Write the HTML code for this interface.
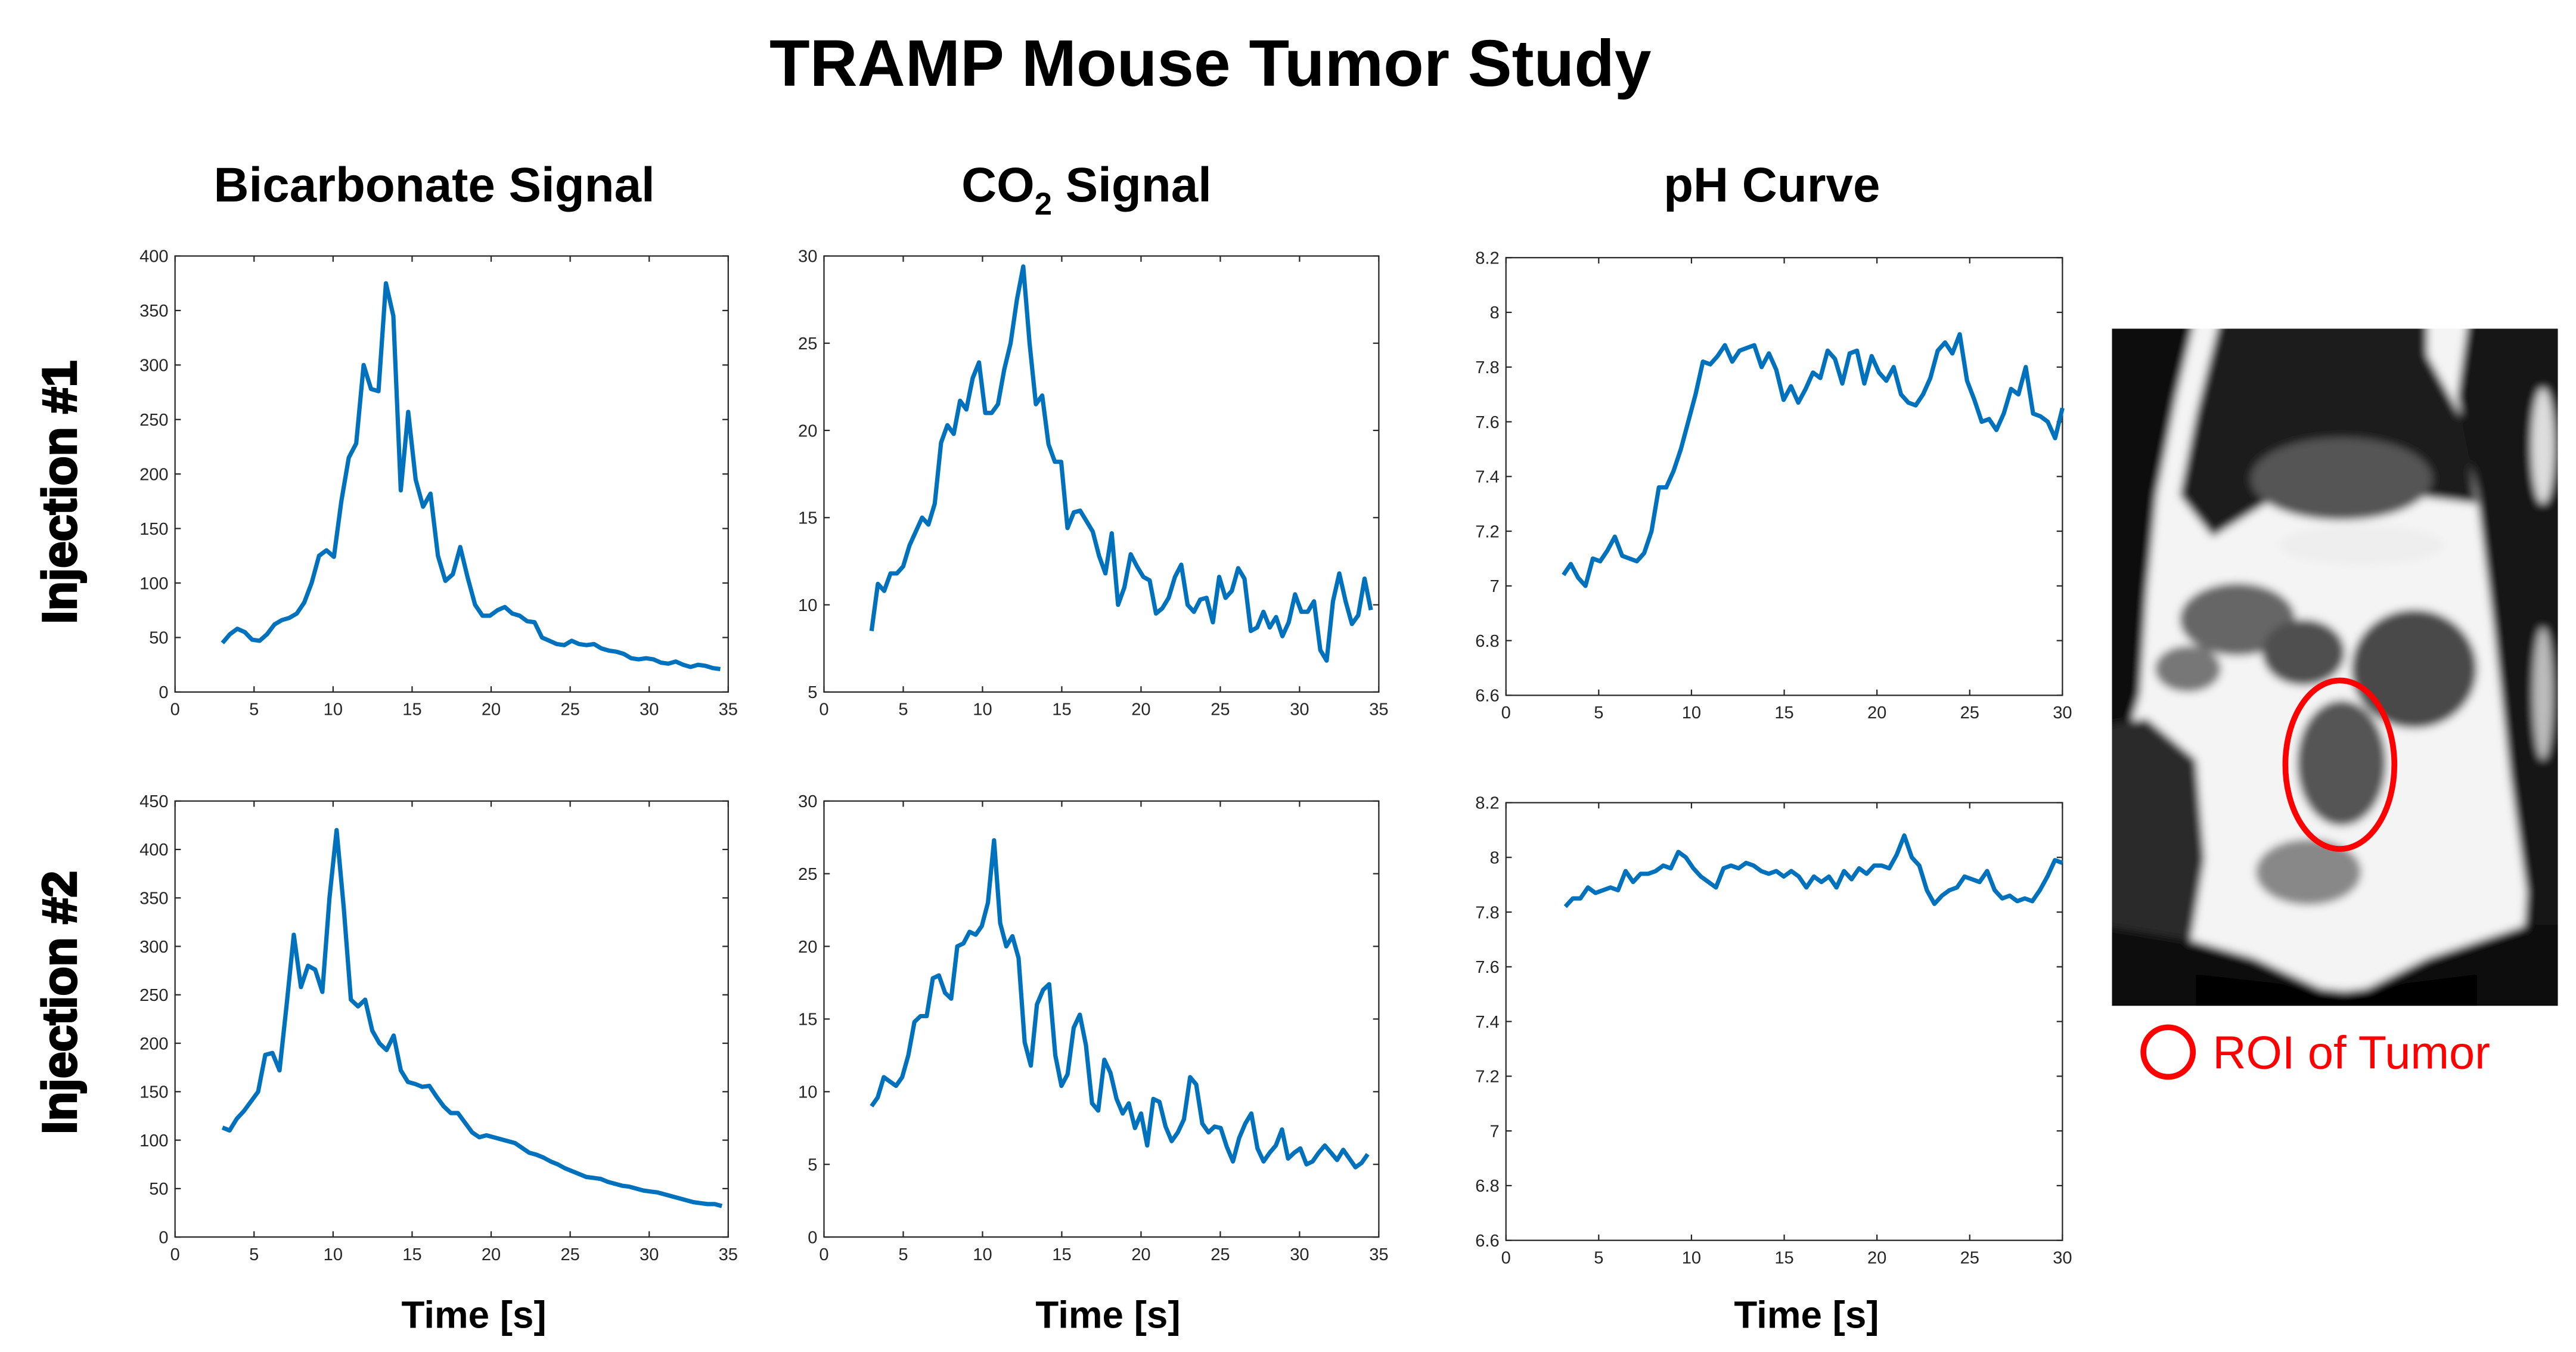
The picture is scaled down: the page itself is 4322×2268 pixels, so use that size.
<!DOCTYPE html>
<html><head><meta charset="utf-8"><style>
html,body{margin:0;padding:0;background:#fff;}
svg{display:block;}
text{font-family:"Liberation Sans",sans-serif;}
</style></head><body>
<svg id="fig" width="4322" height="2268" viewBox="0 0 1560 818.6" xmlns="http://www.w3.org/2000/svg">
<rect x="0" y="0" width="1560" height="818.6" fill="#fff"/>
<text x="733" y="52" font-size="40" font-weight="bold" text-anchor="middle">TRAMP Mouse Tumor Study</text>
<text x="263" y="122" font-size="29.5" font-weight="bold" text-anchor="middle">Bicarbonate Signal</text>
<text x="658" y="122" font-size="29.5" font-weight="bold" text-anchor="middle">CO<tspan font-size="19" dy="8">2</tspan><tspan dy="-8"> Signal</tspan></text>
<text x="1073" y="122" font-size="29.5" font-weight="bold" text-anchor="middle">pH Curve</text>
<text transform="translate(46,298) rotate(-90)" font-size="29" font-weight="bold" text-anchor="middle" stroke="#000" stroke-width="1.2">Injection #1</text>
<text transform="translate(46,607) rotate(-90)" font-size="29" font-weight="bold" text-anchor="middle" stroke="#000" stroke-width="1.2">Injection #2</text>
<text x="287" y="804" font-size="23" font-weight="bold" text-anchor="middle">Time [s]</text>
<text x="671" y="804" font-size="23" font-weight="bold" text-anchor="middle">Time [s]</text>
<text x="1094" y="804" font-size="23" font-weight="bold" text-anchor="middle">Time [s]</text>
<g id="charts"></g>
<defs>
<clipPath id="mc"><rect x="1279" y="199" width="270" height="410"/></clipPath>
<filter id="bl"><feGaussianBlur stdDeviation="2.5"/></filter>
</defs>
<g>
<g clip-path="url(#mc)">
<g filter="url(#bl)">
<rect x="1270" y="190" width="290" height="430" fill="#f4f4f4"/>
<!-- left dark strip and top-left -->
<path d="M1270 190 L1330 190 L1318 240 L1306 300 L1300 360 L1296 420 L1290 440 L1270 440 Z" fill="#0a0a0a"/>
<path d="M1270 440 L1300 435 L1330 460 L1335 520 L1325 580 L1270 600 Z" fill="#2a2a2a"/>
<!-- top center dark region -->
<path d="M1345 190 L1470 190 L1470 215 L1492 255 L1500 305 L1460 300 L1420 290 L1380 300 L1340 325 L1320 300 L1330 250 Z" fill="#1a1a1a"/>
<ellipse cx="1418" cy="290" rx="55" ry="25" fill="#555"/>
<ellipse cx="1430" cy="330" rx="50" ry="12" fill="#eee"/>
<!-- top right -->
<path d="M1495 190 L1560 190 L1560 620 L1525 620 L1530 540 L1520 470 L1510 380 L1500 300 L1488 240 Z" fill="#141414"/>
<ellipse cx="1540" cy="270" rx="7" ry="35" fill="#ddd"/>
<ellipse cx="1540" cy="420" rx="6" ry="40" fill="#bbb"/>
<!-- organs -->
<ellipse cx="1355" cy="375" rx="35" ry="22" fill="#666"/>
<ellipse cx="1325" cy="405" rx="20" ry="14" fill="#777"/>
<ellipse cx="1395" cy="395" rx="25" ry="20" fill="#505050"/>
<ellipse cx="1462" cy="405" rx="38" ry="36" fill="#4a4a4a"/>
<ellipse cx="1418" cy="462" rx="27" ry="38" fill="#555"/>
<ellipse cx="1398" cy="528" rx="32" ry="20" fill="#888"/>
<!-- bottom black -->
<path d="M1270 560 L1330 570 L1365 580 L1420 605 L1470 580 L1530 560 L1560 560 L1560 620 L1270 620 Z" fill="#080808"/>
<path d="M1330 590 L1420 600 L1500 590 L1500 620 L1330 620 Z" fill="#050505"/>
</g>
</g>
</g>
<ellipse cx="1417" cy="463" rx="33" ry="51" fill="none" stroke="#f00" stroke-width="3.5"/>
<circle cx="1313" cy="637" r="15" fill="none" stroke="#f00" stroke-width="3.5"/>
<text x="1340" y="647" font-size="28" fill="#f00">ROI of Tumor</text>
</svg>
<script>
// Bicarbonate injection #1
const bic1Values=[45,53,58,55,48,47,53,62,66,68,72,82,100,125,130,124,175,215,228,300,278,276,375,345,185,257,195,170,182,125,102,108,133,105,80,70,70,75,78,72,70,65,64,50,47,44,43,47,44,43,44,40,38,37,35,31,30,31,30,27,26,28,25,23,25,24,22,21];
// CO2 injection #1
const co21Values=[8.5,11.2,10.8,11.8,11.8,12.2,13.4,14.2,15,14.6,15.8,19.3,20.3,19.8,21.7,21.2,23,23.9,21,21,21.5,23.5,25,27.5,29.4,25,21.5,22,19.2,18.2,18.2,14.4,15.3,15.4,14.8,14.2,12.8,11.8,14.1,10,11,12.9,12.2,11.6,11.4,9.5,9.8,10.4,11.6,12.3,10,9.6,10.3,10.4,9,11.6,10.4,10.8,12.1,11.5,8.5,8.7,9.6,8.7,9.3,8.2,9,10.6,9.6,9.6,10.2,7.4,6.8,10.2,11.8,10.2,8.9,9.4,11.5,9.7];
// pH injection #1
const ph1Values=[7.04,7.08,7.03,7.0,7.1,7.09,7.13,7.18,7.11,7.1,7.09,7.12,7.2,7.36,7.36,7.42,7.5,7.6,7.7,7.82,7.81,7.84,7.88,7.82,7.86,7.87,7.88,7.8,7.85,7.79,7.68,7.73,7.67,7.72,7.78,7.76,7.86,7.83,7.74,7.85,7.86,7.74,7.84,7.78,7.75,7.8,7.7,7.67,7.66,7.7,7.76,7.86,7.89,7.85,7.92,7.75,7.68,7.6,7.61,7.57,7.63,7.72,7.7,7.8,7.63,7.62,7.6,7.54,7.65];
// Bicarbonate injection #2
const bic2Values=[113,110,122,130,140,150,188,190,172,240,312,258,280,276,253,350,420,340,245,238,245,213,200,193,208,172,160,158,155,156,145,135,128,128,118,108,103,105,103,101,99,97,92,87,85,82,78,75,71,68,65,62,61,60,57,55,53,52,50,48,47,46,44,42,40,38,36,35,34,34,32];
// CO2 injection #2
const co22Values=[9,9.6,11,10.7,10.4,11,12.5,14.8,15.2,15.2,17.8,18,16.8,16.4,20,20.2,21,20.8,21.4,23,27.3,21.6,20,20.7,19.2,13.4,11.8,16,17,17.4,12.5,10.4,11.2,14.4,15.3,13.2,9.2,8.7,12.2,11.3,9.5,8.5,9.2,7.5,8.5,6.3,9.5,9.3,7.6,6.6,7.2,8.1,11,10.5,7.8,7.2,7.6,7.5,6.2,5.2,6.8,7.8,8.5,6.1,5.2,5.8,6.3,7.4,5.4,5.8,6.1,5,5.2,5.8,6.3,5.8,5.3,6,5.4,4.8,5.1,5.7];
// pH injection #2
const ph2Values=[7.82,7.85,7.85,7.89,7.87,7.88,7.89,7.88,7.95,7.91,7.94,7.94,7.95,7.97,7.96,8.02,8.0,7.96,7.93,7.91,7.89,7.96,7.97,7.96,7.98,7.97,7.95,7.94,7.95,7.93,7.95,7.93,7.89,7.93,7.91,7.93,7.89,7.95,7.92,7.96,7.94,7.97,7.97,7.96,8.01,8.08,8.0,7.97,7.88,7.83,7.86,7.88,7.89,7.93,7.92,7.91,7.95,7.88,7.85,7.86,7.84,7.85,7.84,7.88,7.93,7.99,7.98];
const xTicks35=[0,5,10,15,20,25,30,35];
const xTicks30=[0,5,10,15,20,25,30];
const yTicksBic1=[0,50,100,150,200,250,300,350,400];
const yTicksBic2=[0,50,100,150,200,250,300,350,400,450];
const yTicksCo21=[5,10,15,20,25,30];
const yTicksCo22=[0,5,10,15,20,25,30];
const yTicksPh=[6.6,6.8,7,7.2,7.4,7.6,7.8,8,8.2];
const sampleTimes={bic1:[3,34.5],co21:[3,34.5],ph1:[3.1,30],bic2:[3,34.6],co22:[3,34.3],ph2:[3.2,30]};

const NS='http://www.w3.org/2000/svg';
const root=document.getElementById('charts');
function mk(tag,attrs,parent){const e=document.createElementNS(NS,tag);for(const k in attrs)e.setAttribute(k,attrs[k]);parent.appendChild(e);return e;}
function chart(name,box,xd,yd,xt,yt,vals,tr){
  const g=mk('g',{},root);
  
  
  const [x0,y0,x1,y1]=box;
  const sx=v=>x0+(v-xd[0])/(xd[1]-xd[0])*(x1-x0);
  const sy=v=>y1-(v-yd[0])/(yd[1]-yd[0])*(y1-y0);
  const fr=mk('rect',{x:x0,y:y0,width:x1-x0,height:y1-y0,fill:'none',stroke:'#262626','stroke-width':0.8},g);
  
  
  xt.forEach(t=>{const x=sx(t);
    mk('line',{x1:x,x2:x,y1:y1,y2:y1-3.5,stroke:'#262626','stroke-width':0.8},g);
    mk('line',{x1:x,x2:x,y1:y0,y2:y0+3.5,stroke:'#262626','stroke-width':0.8},g);
    const tx=mk('text',{x:x,y:y1+14,'font-size':10.5,'text-anchor':'middle',fill:'#262626'},g);tx.textContent=t;
    
    });
  yt.forEach(t=>{const y=sy(t);
    mk('line',{x1:x0,x2:x0+3.5,y1:y,y2:y,stroke:'#262626','stroke-width':0.8},g);
    mk('line',{x1:x1,x2:x1-3.5,y1:y,y2:y,stroke:'#262626','stroke-width':0.8},g);
    const tx=mk('text',{x:x0-4,y:y+3.7,'font-size':10.5,'text-anchor':'end',fill:'#262626'},g);tx.textContent=t;
    
    });
  const n=vals.length;
  const pts=vals.map((v,i)=>{const t=tr[0]+(tr[1]-tr[0])*i/(n-1);return sx(t).toFixed(2)+','+sy(v).toFixed(2);});
  const pl=mk('polyline',{points:pts.join(' '),fill:'none',stroke:'#0072BD','stroke-width':2.6,'stroke-linejoin':'round'},g);
  
  
}
chart('bicarbonate-injection-1',[106,155,441,419],[0,35],[0,400],xTicks35,yTicksBic1,bic1Values,sampleTimes.bic1);
chart('co2-injection-1',[499,155,835,419],[0,35],[5,30],xTicks35,yTicksCo21,co21Values,sampleTimes.co21);
chart('ph-injection-1',[912,156,1249,421],[0,30],[6.6,8.2],xTicks30,yTicksPh,ph1Values,sampleTimes.ph1);
chart('bicarbonate-injection-2',[106,485,441,749],[0,35],[0,450],xTicks35,yTicksBic2,bic2Values,sampleTimes.bic2);
chart('co2-injection-2',[499,485,835,749],[0,35],[0,30],xTicks35,yTicksCo22,co22Values,sampleTimes.co22);
chart('ph-injection-2',[912,486,1249,751],[0,30],[6.6,8.2],xTicks30,yTicksPh,ph2Values,sampleTimes.ph2);
</script>
</body></html>
